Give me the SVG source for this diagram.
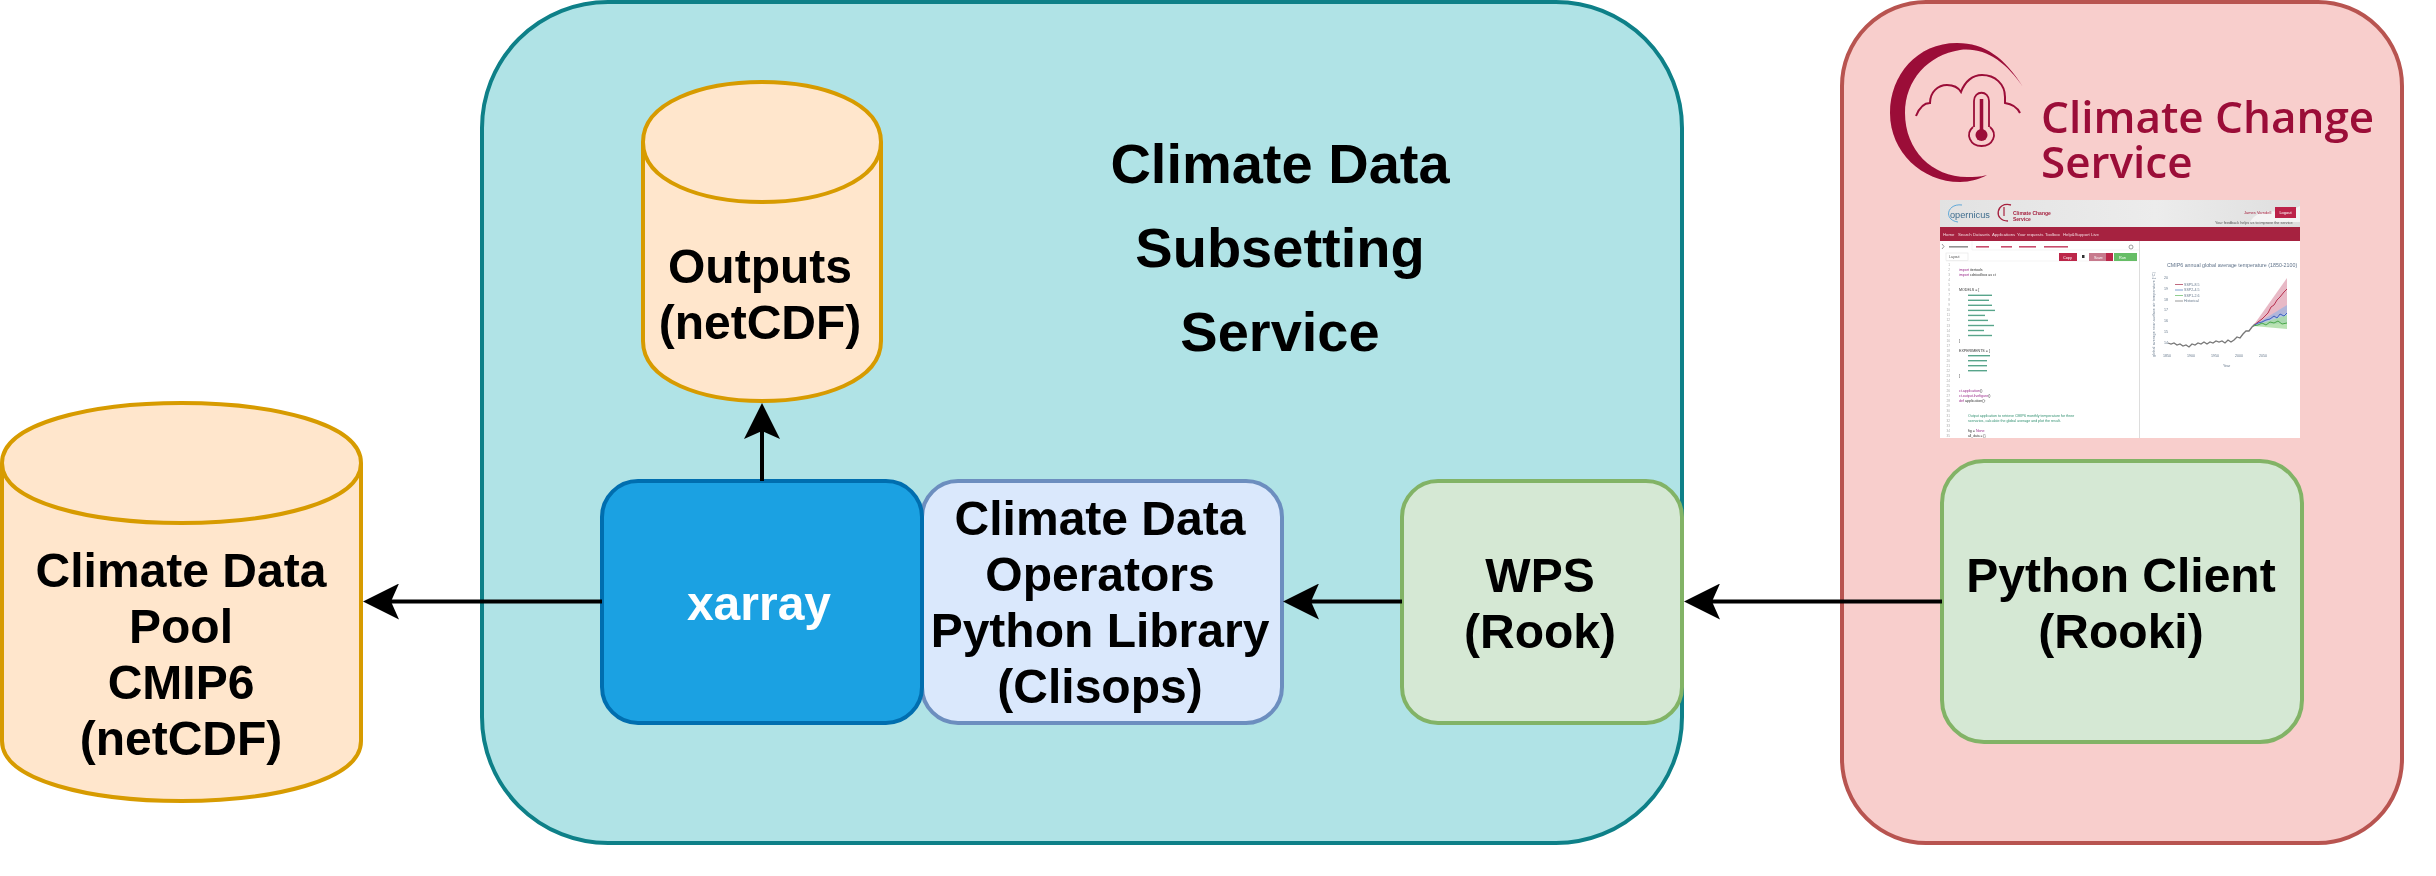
<svg xmlns="http://www.w3.org/2000/svg" width="2436" height="876" viewBox="0 0 2436 876">
<defs>
<style>
text{font-family:"Liberation Sans",Arial,sans-serif}
.t{font-weight:700;font-size:48px;text-anchor:middle;fill:#000}
.title{font-weight:700;font-size:56px;text-anchor:middle;fill:#000}
.cyl{fill:#ffe6cc;stroke:#d79b00;stroke-width:4}
.conn{fill:none;stroke:#000;stroke-width:4;marker-end:url(#head)}
.logoT{font-family:"Open Sans",sans-serif;font-weight:600;font-size:44px;fill:#9b0b37}
.nav{font-size:4.3px;fill:#f2d9df}
.code{font-family:"Liberation Mono",monospace;font-size:3.6px;fill:#333}
.kw{fill:#9a2a8a}
.str{fill:#2f8f6f}
.num{font-family:"Liberation Mono",monospace;font-size:3.2px;fill:#aaa;text-anchor:end}
.ax{font-size:3.6px;fill:#66788c}
.bar{opacity:.8}
</style>
<marker id="head" markerUnits="userSpaceOnUse" markerWidth="36" markerHeight="36" refX="10" refY="18" orient="auto">
<path d="M0,0L36,18L0,36L8,18Z" fill="#000"/>
</marker>
<filter id="soft" x="-2%" y="-2%" width="104%" height="104%"><feGaussianBlur stdDeviation="0.45"/></filter>
<filter id="softL" x="-2%" y="-2%" width="104%" height="104%"><feGaussianBlur stdDeviation="0.7"/></filter>
<linearGradient id="hdr" x1="0" x2="1" y1="0" y2="0"><stop offset="0" stop-color="#e2e2e2"/><stop offset=".6" stop-color="#ececec"/><stop offset="1" stop-color="#dedede"/></linearGradient>
</defs>
<rect width="2436" height="876" fill="#fff"/>

<g id="service-container">
<rect x="482" y="2" width="1200" height="841" rx="126" ry="126" fill="#b0e3e6" stroke="#0e8088" stroke-width="4"/>
<text class="title" x="1280" y="183">Climate Data</text>
<text class="title" x="1280" y="267">Subsetting</text>
<text class="title" x="1280" y="351">Service</text>
</g>

<g id="c3s-container">
<rect x="1842" y="2" width="560" height="841" rx="84" ry="84" fill="#f8cecc" stroke="#b85450" stroke-width="4"/>
</g>

<g id="c3s-logo" filter="url(#softL)">
<path d="M2023,87C2005,58 1985,43 1957,43C1917,43 1890,75 1890,113C1890,152 1922,182 1960,182C1970,182 1980,179 1987,175C1980,177 1974,177 1967,177C1932,177 1905,150 1905,113C1905,80 1928,55 1960,50C1985,47 2006,62 2023,87Z" fill="#9b0b37"/>
<path d="M1916,116C1920,106 1926,103 1930,103C1930,92 1938,85 1947,85C1953,85 1958,87 1961,92C1965,81 1973,75 1982,75C1995,75 2005,84 2005,97C2005,100 2005,102 2005,103C2012,104 2017,107 2020,113" fill="none" stroke="#9b0b37" stroke-width="2"/>
<path d="M1974,127V101C1974,90 1989,90 1989,101V127" fill="none" stroke="#9b0b37" stroke-width="1.8"/>
<path d="M1981.500,99V130" stroke="#9b0b37" stroke-width="3.500"/>
<circle cx="1981.500" cy="135" r="6" fill="#9b0b37"/>
<path d="M1973,127C1965,134 1970,146 1981.500,146C1993,146 1998,134 1990,127" fill="none" stroke="#9b0b37" stroke-width="1.800"/>
<text class="logoT"><tspan x="2041" y="133">Climate Change</tspan><tspan x="2041" y="178">Service</tspan></text>
</g>

<g id="toolbox-screenshot" filter="url(#soft)">
<rect x="1940" y="200" width="360" height="238" fill="#fff"/>
<rect x="1940" y="200" width="360" height="27" fill="url(#hdr)"/>
<path d="M2250,222C2255,212 2270,208 2285,214L2300,206V222Z" fill="#f4f4f4"/>
<rect x="1940" y="227" width="360" height="14" fill="#a6213f"/>
<path d="M1962,205C1947,203 1943,220 1958,222" fill="none" stroke="#5fa8d8" stroke-width="1"/>
<text x="1950" y="218" font-size="9.200" fill="#3f6d8e" font-family="Liberation Sans">opernicus</text>
<path d="M2011,205C1996,201 1993,221 2008,221" fill="none" stroke="#a6213f" stroke-width="1.300"/>
<path d="M2004,207V216" stroke="#a6213f" stroke-width="1.200"/>
<text x="2013" y="215" font-size="5" font-weight="700" fill="#a6213f">Climate Change</text>
<text x="2013" y="220.500" font-size="5" font-weight="700" fill="#a6213f">Service</text>
<text x="2244" y="214" font-size="4" fill="#a6213f">James Varndell</text>
<rect x="2275" y="207" width="21" height="11" fill="#bb2249"/>
<text x="2285.500" y="214" font-size="4" text-anchor="middle" fill="#fff">Logout</text>
<text x="2215" y="224" font-size="3.800" fill="#555">Your feedback helps us to improve the service</text>
<g class="nav">
<text x="1943" y="235.500">Home</text><text x="1958" y="235.500">Search</text><text x="1973" y="235.500">Datasets</text><text x="1992" y="235.500">Applications</text><text x="2017" y="235.500">Your requests</text><text x="2045" y="235.500">Toolbox</text><text x="2063" y="235.500">Help&amp;Support</text><text x="2091" y="235.500">Live</text>
</g>
<path d="M2139.500,241V438" stroke="#ddd" stroke-width="1"/>
<path d="M1942,244L1944,246.500L1942,249" fill="none" stroke="#555" stroke-width=".6"/>
<path d="M1972,241V250M1972,250H2139M1946,261H2137" stroke="#eee" stroke-width=".6"/>
<rect class="bar" x="1949" y="246" width="19" height="1.600" fill="#777"/>
<rect class="bar" x="1976" y="246" width="13" height="1.600" fill="#bb2249"/>
<rect class="bar" x="2001" y="246" width="11" height="1.600" fill="#bb2249"/>
<rect class="bar" x="2019" y="246" width="17" height="1.600" fill="#bb2249"/>
<rect class="bar" x="2044" y="246" width="24" height="1.600" fill="#bb2249"/>
<circle cx="2131" cy="247" r="2" fill="none" stroke="#777" stroke-width=".7"/>
<rect x="1946" y="253" width="22" height="7.500" fill="#fff" stroke="#e5e5e5" stroke-width=".6"/>
<text x="1949" y="258" font-size="3.500" fill="#555">Layout</text>
<rect x="2059" y="253" width="18" height="8" fill="#bc2649"/>
<text x="2063" y="258.500" font-size="3.800" fill="#fff">Copy</text>
<rect x="2082" y="255" width="2.500" height="3" fill="#333"/>
<rect x="2089" y="253" width="17" height="8" fill="#c77a8d"/>
<text x="2094" y="258.500" font-size="3.800" fill="#fff">Save</text>
<rect x="2106" y="253" width="7" height="8" fill="#bc2649"/>
<rect x="2114" y="253" width="23" height="8" fill="#66bd66"/>
<text x="2119" y="258.500" font-size="3.800" fill="#fff">Run</text>
<g class="num">
<text x="1950" y="266">1</text><text x="1950" y="271">2</text><text x="1950" y="276">3</text><text x="1950" y="281">4</text><text x="1950" y="286">5</text><text x="1950" y="291">6</text><text x="1950" y="296">7</text><text x="1950" y="301">8</text><text x="1950" y="306">9</text><text x="1950" y="311">10</text><text x="1950" y="316">11</text><text x="1950" y="321">12</text><text x="1950" y="326.500">13</text><text x="1950" y="331.500">14</text><text x="1950" y="336.500">15</text><text x="1950" y="341.500">16</text><text x="1950" y="346.500">17</text><text x="1950" y="351.500">18</text><text x="1950" y="356.500">19</text><text x="1950" y="361.500">20</text><text x="1950" y="366.500">21</text><text x="1950" y="371.500">22</text><text x="1950" y="376.500">23</text><text x="1950" y="381.500">24</text><text x="1950" y="386.500">25</text><text x="1950" y="391.700">26</text><text x="1950" y="396.700">27</text><text x="1950" y="401.700">28</text><text x="1950" y="406.700">29</text><text x="1950" y="411.700">30</text><text x="1950" y="416.700">31</text><text x="1950" y="421.700">32</text><text x="1950" y="426.700">33</text><text x="1950" y="431.700">34</text><text x="1950" y="436.700">35</text>
</g>
<g class="code">
<text x="1959" y="271.200"><tspan class="kw">import</tspan> itertools</text>
<text x="1959" y="276.200"><tspan class="kw">import</tspan> cdstoolbox as ct</text>
<text x="1959" y="291.300">MODELS = [</text>
<text x="1959" y="341.700">]</text>
<text x="1959" y="351.800">EXPERIMENTS = [</text>
<text x="1959" y="376.900">]</text>
<text x="1959" y="392.100"><tspan class="kw">ct.application</tspan>()</text>
<text x="1959" y="397.100"><tspan class="kw">ct.output.livefigure</tspan>()</text>
<text x="1959" y="402.200"><tspan class="kw">def</tspan> application():</text>
<text x="1968" y="417.300" class="str">Output application to retrieve CMIP6 monthly temperature for three</text>
<text x="1968" y="422.300" class="str">scenarios, calculate the global average and plot the result.</text>
<text x="1968" y="432.400">fig = <tspan class="kw">None</tspan></text>
<text x="1968" y="437.400" style="font-size:3.300px">all_data = {}</text>
</g>
<g fill="#2f8f6f" class="bar">
<rect x="1968" y="294.600" width="24" height="1.400"/><rect x="1968" y="299.600" width="21" height="1.400"/><rect x="1968" y="304.600" width="24" height="1.400"/><rect x="1968" y="309.700" width="27" height="1.400"/><rect x="1968" y="314.700" width="17" height="1.400"/><rect x="1968" y="319.700" width="20" height="1.400"/><rect x="1968" y="324.800" width="26" height="1.400"/><rect x="1968" y="329.800" width="16" height="1.400"/><rect x="1968" y="334.800" width="24" height="1.400"/>
<rect x="1968" y="355" width="22" height="1.400"/><rect x="1968" y="360" width="19" height="1.400"/><rect x="1968" y="365" width="19" height="1.400"/><rect x="1968" y="370" width="19" height="1.400"/>
</g>
<text x="2167" y="267" font-size="5.300" fill="#60738a">CMIP6 annual global average temperature (1850-2100)</text>
<text class="ax" x="2155" y="357" transform="rotate(-90 2155 357)" textLength="85">global average near-surface air temperature (°C)</text>
<g class="ax">
<text x="2164" y="278.500">20</text><text x="2164" y="289.500">19</text><text x="2164" y="300.500">18</text><text x="2164" y="310.500">17</text><text x="2164" y="321.500">16</text><text x="2164" y="332.500">15</text><text x="2164" y="343.500">14</text>
<text x="2163" y="356.500">1850</text><text x="2187" y="356.500">1900</text><text x="2211" y="356.500">1950</text><text x="2235" y="356.500">2000</text><text x="2259" y="356.500">2050</text>
<text x="2223" y="367">Year</text>
<text x="2184" y="285.500">SSP5-8.5</text><text x="2184" y="291">SSP2-4.5</text><text x="2184" y="296.500">SSP1-2.6</text><text x="2184" y="302">Historical</text>
</g>
<path d="M2175,284.500H2183" stroke="#c06a80" stroke-width="1"/><path d="M2175,290H2183" stroke="#7f9fd0" stroke-width="1"/><path d="M2175,295.500H2183" stroke="#8fcf8f" stroke-width="1"/><path d="M2175,301H2183" stroke="#999" stroke-width="1"/>
<path d="M2253,326L2287,278V313Z" fill="#d98ba0" opacity=".6"/>
<path d="M2253,326L2287,305V323Z" fill="#9db4e0" opacity=".75"/>
<path d="M2253,326L2287,315V329Z" fill="#a8dca0" opacity=".8"/>
<path d="M2253,326L2258,322L2262,319L2265,316L2268,313L2271,307L2274,305L2277,300L2280,297L2284,292L2287,289" fill="none" stroke="#b8304f" stroke-width="1"/>
<path d="M2253,326L2258,323L2262,322L2266,320L2270,319L2274,316L2277,318L2280,314L2284,316L2287,313" fill="none" stroke="#3a5fc0" stroke-width="1"/>
<path d="M2253,326L2258,325L2262,323L2266,325L2270,322L2274,323L2278,321L2282,324L2287,323" fill="none" stroke="#4aa84a" stroke-width="1"/>
<path d="M2168,343L2171,344L2174,343L2177,345L2180,344L2183,346L2186,345L2189,347L2192,344L2195,345L2198,343L2201,344L2204,342L2207,344L2210,342L2213,343L2216,341L2219,342L2222,341L2225,343L2228,340L2231,342L2234,340L2237,337L2240,338L2243,334L2246,331L2249,331L2252,327L2255,324" fill="none" stroke="#777" stroke-width="1.300"/>
</g>

<g id="python-client">
<rect x="1942" y="461" width="360" height="281" rx="42" ry="42" fill="#d5e8d4" stroke="#82b366" stroke-width="4"/>
<text class="t" x="2121" y="592">Python Client</text>
<text class="t" x="2121" y="648">(Rooki)</text>
</g>
<g id="wps">
<rect x="1402" y="481" width="280" height="242" rx="36" ry="36" fill="#d5e8d4" stroke="#82b366" stroke-width="4"/>
<text class="t" x="1540" y="592">WPS</text>
<text class="t" x="1540" y="648">(Rook)</text>
</g>
<g id="clisops">
<rect x="922" y="481" width="360" height="242" rx="36" ry="36" fill="#dae8fc" stroke="#6c8ebf" stroke-width="4"/>
<text class="t" x="1100" y="535">Climate Data</text>
<text class="t" x="1100" y="591">Operators</text>
<text class="t" x="1100" y="647">Python Library</text>
<text class="t" x="1100" y="703">(Clisops)</text>
</g>
<g id="xarray">
<rect x="602" y="481" width="320" height="242" rx="36" ry="36" fill="#1ba1e2" stroke="#006eaf" stroke-width="4"/>
<text class="t" x="759" y="620" style="fill:#fff">xarray</text>
</g>
<g id="outputs">
<path class="cyl" d="M643,142C643,62 881,62 881,142V341C881,421 643,421 643,341Z"/>
<path class="cyl" style="fill:none" d="M643,142C643,222 881,222 881,142"/>
<text class="t" x="760" y="283">Outputs</text>
<text class="t" x="760" y="339">(netCDF)</text>
</g>
<g id="climate-data-pool">
<path class="cyl" d="M2,463C2,383 361,383 361,463V741C361,821 2,821 2,741Z"/>
<path class="cyl" style="fill:none" d="M2,463C2,543 361,543 361,463"/>
<text class="t" x="181" y="587">Climate Data</text>
<text class="t" x="181" y="643">Pool</text>
<text class="t" x="181" y="699">CMIP6</text>
<text class="t" x="181" y="755">(netCDF)</text>
</g>
<g id="connectors">
<path class="conn" d="M602,601.500H389"/>
<path class="conn" d="M762,481V429"/>
<path class="conn" d="M1402,601.500H1309"/>
<path class="conn" d="M1942,601.500H1710"/>
</g>
</svg>
